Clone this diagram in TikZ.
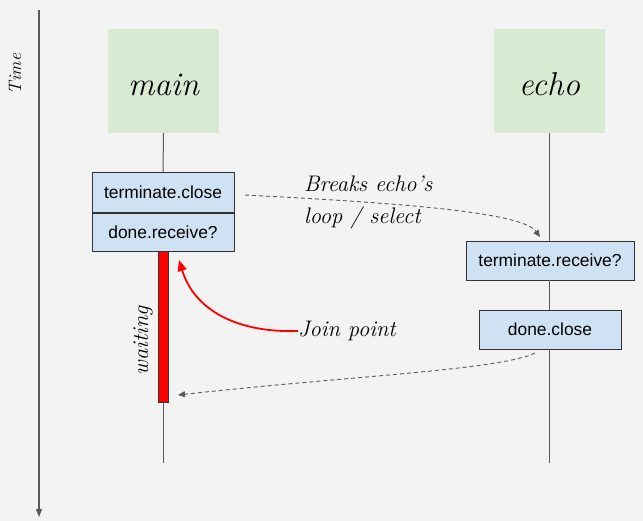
\documentclass[tikz,border=0pt]{standalone}
\usepackage{fontspec}
\setsansfont{Liberation Sans}
\usetikzlibrary{arrows.meta}
\definecolor{bgc}{HTML}{F3F3F3}
\definecolor{greenc}{HTML}{D9EAD3}
\definecolor{bluec}{HTML}{CFE2F3}
\definecolor{linec}{HTML}{595959}
\definecolor{edgec}{HTML}{333333}
\tikzset{
  actor/.style={fill=greenc, draw=none, minimum width=111, minimum height=104, inner sep=0},
  actortext/.style={font=\fontsize{33}{38}\selectfont\itshape, inner sep=0, anchor=base},
  msgbox/.style={fill=bluec, draw=edgec, line width=0.9, inner sep=0,
    font=\fontsize{17.4}{20}\selectfont\sffamily},
  hand/.style={font=\fontsize{22.5}{32}\selectfont\itshape, inner sep=0},
  life/.style={draw=linec, line width=1},
  msgarrow/.style={draw=linec, line width=0.9, dash pattern=on 4 off 3, -{Triangle[length=7,width=6]}},
}
\begin{document}
\begin{tikzpicture}[x=1pt,y=-1pt]
\fill[bgc] (0,0) rectangle (643,521);
\useasboundingbox (0,0) rectangle (643,521);
% time axis
\coordinate (t0) at (39,10);
\coordinate (t1) at (39,517);
\draw[linec, line width=1.2, -{Triangle[length=8,width=6]}] (t0) -- (t1);
\node[font=\fontsize{18}{20}\selectfont\itshape, rotate=90, inner sep=0] (time) at (15,74) {Time};
% actors
\node[actor] (mainbox) at (163.5,81) {};
\node[actor] (echobox) at (549.5,81) {};
\node[actortext] (mainlbl) at (163.5,96) {main};
\node[actortext] (echolbl) at (549.5,96) {echo};
% boxes
\node[msgbox, minimum width=142, minimum height=40, anchor=north] (tclose) at (163,172) {terminate.close};
\node[msgbox, minimum width=142, minimum height=38, anchor=north] (drecv) at (tclose.south) {done.receive?};
\node[msgbox, minimum width=168, minimum height=39] (trecv) at (550,260.5) {terminate.receive?};
\node[msgbox, minimum width=142, minimum height=39] (dclose) at (550,329.5) {done.close};
% lifelines
\coordinate (mainend) at (163,463);
\coordinate (echoend) at (549.5,463);
\draw[life] (mainbox.south) -- (tclose.north);
\draw[life] (drecv.south) -- (mainend);
\draw[life] (echobox.south) -- (echobox.south |- trecv.north);
\draw[life] (echobox.south |- trecv.south) -- (echobox.south |- dclose.north);
\draw[life] (echobox.south |- dclose.south) -- (echoend);
% waiting bar
\node[fill=red, draw=edgec, line width=0.9, minimum width=10, minimum height=151, inner sep=0, anchor=north] (bar) at (163,251) {};
\node[hand, rotate=90] (waiting) at (143,341) {waiting};
% labels
\node[hand, anchor=base west] (breaks1) at (304,192) {Breaks echo's};
\node[hand, anchor=base west] (breaks2) at (304,224) {loop / select};
\node[hand, anchor=west] (join) at (298,331) {Join point};
% arrows
\coordinate (m1s) at (245,195);
\coordinate (m1e) at (540,237);
\draw[msgarrow] (m1s) .. controls (400,203) and (522,212) .. (m1e);
\coordinate (m2s) at (535,353);
\coordinate (m2e) at (178,395);
\draw[msgarrow] (m2s) .. controls (500,370) and (350,376) .. (m2e);
\coordinate (jp) at (179,260);
\draw[red, line width=1.8, -{Triangle[length=11,width=9]}] (join.west) .. controls (240,333) and (195,312) .. (jp);
\end{tikzpicture}
\end{document}
